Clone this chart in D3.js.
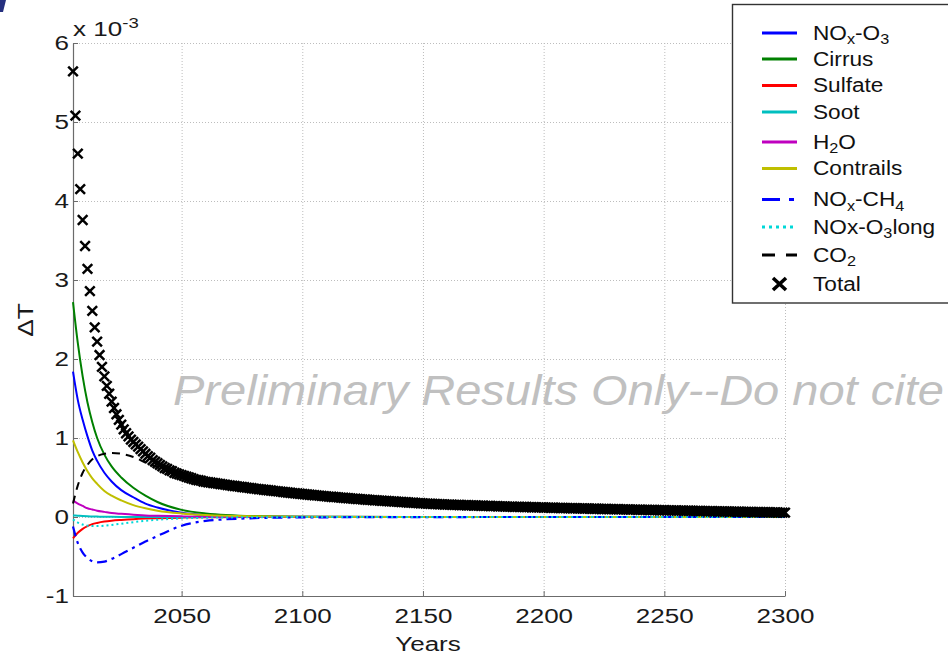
<!DOCTYPE html>
<html>
<head>
<meta charset="utf-8">
<script src="https://cdn.jsdelivr.net/npm/d3@7/dist/d3.min.js"></script>
<style>
body { margin: 0; background: #fff; }
svg { display: block; font-family: "Liberation Sans", Arial, sans-serif; }
</style>
</head>
<body>
<script>
// values are in units of 1e-3 K
var lineYears = [2005, 2007, 2009, 2011, 2013, 2015, 2018, 2021, 2025, 2030, 2035, 2040, 2050, 2060, 2080, 2100, 2150, 2200, 2300];

var noxO3     = [1.84, 1.48, 1.23, 1.02, 0.84, 0.71, 0.56, 0.45, 0.34, 0.25, 0.17, 0.12, 0.055, 0.025, 0.006, 0.002, 0, 0, 0];
var cirrus    = [2.72, 2.20, 1.78, 1.45, 1.20, 1.00, 0.79, 0.64, 0.50, 0.37, 0.27, 0.19, 0.09, 0.045, 0.012, 0.004, 0.001, 0, 0];
var sulfate   = [-0.27, -0.20, -0.15, -0.115, -0.09, -0.075, -0.058, -0.047, -0.037, -0.027, -0.02, -0.015, -0.008, -0.004, -0.001, 0, 0, 0, 0];
var soot      = [0.02, 0.016, 0.012, 0.009, 0.007, 0.005, 0.003, 0.002, 0.001, 0, 0, 0, 0, 0, 0, 0, 0, 0, 0];
var h2o       = [0.21, 0.17, 0.14, 0.11, 0.095, 0.08, 0.065, 0.05, 0.04, 0.03, 0.02, 0.015, 0.008, 0.004, 0.001, 0, 0, 0, 0];
var contrails = [0.97, 0.82, 0.69, 0.58, 0.49, 0.42, 0.33, 0.27, 0.21, 0.15, 0.11, 0.08, 0.045, 0.025, 0.008, 0.003, 0, 0, 0];
var noxCH4    = [-0.12, -0.33, -0.45, -0.52, -0.56, -0.575, -0.565, -0.53, -0.47, -0.39, -0.31, -0.24, -0.11, -0.05, -0.015, -0.005, -0.001, 0, 0];
var noxO3long = [-0.03, -0.07, -0.095, -0.11, -0.115, -0.115, -0.11, -0.10, -0.085, -0.065, -0.048, -0.035, -0.018, -0.009, -0.003, -0.001, 0, 0, 0];
var co2       = [0.17, 0.40, 0.56, 0.66, 0.73, 0.77, 0.80, 0.81, 0.80, 0.76, 0.69, 0.63, 0.50, 0.43, 0.34, 0.28, 0.17, 0.12, 0.055];

var totalYears = d3.range(2005, 2301);
var totalValues = [
  5.64, 5.08, 4.60, 4.15, 3.76, 3.43, 3.14, 2.86, 2.61, 2.40,
  2.22, 2.05, 1.90, 1.78, 1.66, 1.56, 1.46, 1.38, 1.30, 1.23,
  1.17, 1.11, 1.06, 1.02, 0.98, 0.95, 0.92, 0.89, 0.86, 0.83,
  0.80, 0.77, 0.75, 0.72, 0.70, 0.68, 0.66, 0.64, 0.62, 0.61,
  0.59, 0.58, 0.56, 0.55, 0.54, 0.53, 0.52, 0.51, 0.50, 0.49,
  0.48, 0.47, 0.465, 0.46, 0.45, 0.445,
  0.440, 0.436, 0.431, 0.427, 0.422, 0.418, 0.413, 0.409, 0.404, 0.400,
  0.396, 0.392, 0.388, 0.384, 0.380, 0.376, 0.372, 0.368, 0.364, 0.360,
  0.356, 0.352, 0.349, 0.345, 0.342, 0.338, 0.335, 0.331, 0.328, 0.324,
  0.321, 0.317, 0.314, 0.310, 0.307, 0.303, 0.300, 0.297, 0.294, 0.291,
  0.288, 0.285, 0.282, 0.279, 0.276, 0.273, 0.270, 0.267, 0.264, 0.261,
  0.258, 0.256, 0.253, 0.251, 0.248, 0.246, 0.243, 0.241, 0.238, 0.236,
  0.233, 0.231, 0.228, 0.226, 0.223, 0.221, 0.218, 0.216, 0.214, 0.212,
  0.210, 0.208, 0.206, 0.204, 0.202, 0.200, 0.198, 0.196, 0.194, 0.192,
  0.190, 0.188, 0.186, 0.184, 0.182, 0.180, 0.178, 0.176, 0.174, 0.172,
  0.170, 0.169, 0.167, 0.166, 0.164, 0.163, 0.161, 0.160, 0.158, 0.157,
  0.156, 0.155, 0.154, 0.153, 0.152, 0.151, 0.150, 0.149, 0.148, 0.147,
  0.146, 0.145, 0.144, 0.143, 0.142, 0.141, 0.140, 0.139, 0.138, 0.137,
  0.136, 0.135, 0.134, 0.133, 0.132, 0.131, 0.130, 0.129, 0.1285, 0.128,
  0.1275, 0.127, 0.126, 0.125, 0.124, 0.123, 0.1225, 0.122, 0.121, 0.120,
  0.119, 0.118, 0.1175, 0.117, 0.116, 0.115, 0.1145, 0.114, 0.113, 0.112,
  0.1115, 0.111, 0.1105, 0.110, 0.109, 0.108, 0.1075, 0.107, 0.106, 0.105,
  0.1045, 0.104, 0.103, 0.102, 0.1015, 0.101, 0.1005, 0.100, 0.099, 0.098,
  0.0975, 0.097, 0.0965, 0.096, 0.095, 0.094, 0.0935, 0.093, 0.0925, 0.092,
  0.091, 0.090, 0.0895, 0.089, 0.0885, 0.088, 0.087, 0.086, 0.0855, 0.085,
  0.0845, 0.084, 0.0835, 0.083, 0.082, 0.081, 0.0805, 0.080, 0.0795, 0.079,
  0.0785, 0.078, 0.077, 0.076, 0.0755, 0.075, 0.0745, 0.074, 0.0735, 0.073,
  0.072, 0.071, 0.0705, 0.070, 0.0695, 0.069, 0.0685, 0.068, 0.0675, 0.067,
  0.066, 0.065, 0.0645, 0.064, 0.0635, 0.063, 0.0625, 0.062, 0.0615, 0.061,
  0.0605, 0.060, 0.0595, 0.059, 0.0585, 0.058, 0.057, 0.056, 0.0555, 0.055
];

var xTicks = [2050, 2100, 2150, 2200, 2250, 2300];
var yTicks = [-1, 0, 1, 2, 3, 4, 5, 6];
var legendLabels = ["NO_{x}-O_{3}", "Cirrus", "Sulfate", "Soot", "H_{2}O", "Contrails",
                    "NO_{x}-CH_{4}", "NOx-O_{3}long", "CO_{2}", "Total"];

//
var width = 948, height = 657;
var plot = {left: 73, right: 785, top: 43, bottom: 596};

var x = d3.scaleLinear().domain([2005, 2300]).range([plot.left, plot.right]);
var y = d3.scaleLinear().domain([-1, 6]).range([plot.bottom, plot.top]);

var series = [
  {name: legendLabels[0], values: noxO3,     color: "#0000ff", dash: null,       width: 2},
  {name: legendLabels[1], values: cirrus,    color: "#008000", dash: null,       width: 2},
  {name: legendLabels[2], values: sulfate,   color: "#ff0000", dash: null,       width: 2},
  {name: legendLabels[3], values: soot,      color: "#00bfbf", dash: null,       width: 2},
  {name: legendLabels[4], values: h2o,       color: "#bf00bf", dash: null,       width: 2},
  {name: legendLabels[5], values: contrails, color: "#bfbf00", dash: null,       width: 2},
  {name: legendLabels[6], values: noxCH4,    color: "#0000ff", dash: "10,5,3,5", width: 2.2},
  {name: legendLabels[7], values: noxO3long, color: "#00d8d8", dash: "2,3",      width: 2},
  {name: legendLabels[8], values: co2,       color: "#000000", dash: "8,6",      width: 2}
];

var svg = d3.select("body").append("svg")
  .attr("width", width)
  .attr("height", height);

// stretch text horizontally, the original picture is wider than tall
function stretch(sel, sx) {
  sel.each(function() {
    var t = d3.select(this);
    var tx = +t.attr("x") || 0, ty = +t.attr("y") || 0;
    t.attr("transform", "translate(" + tx + "," + ty + ") scale(" + sx + ",1)")
      .attr("x", 0).attr("y", 0);
  });
}

// text with _{sub} and ^{sup} markup
function richText(sel, str, subSize) {
  var parts = str.split(/([_^]\{[^}]*\})/);
  parts.forEach(function(p) {
    if (!p) return;
    if (p[0] === "_" || p[0] === "^") {
      sel.append("tspan")
        .attr("font-size", subSize)
        .attr("baseline-shift", p[0] === "_" ? "-30%" : "55%")
        .text(p.slice(2, -1));
    } else {
      sel.append("tspan").text(p);
    }
  });
}

// slide corner mark
svg.append("polygon")
  .attr("points", "0,0 6,0 3,12 0,12")
  .attr("fill", "#25307f");

// grid
var grid = svg.append("g")
  .attr("stroke", "#bdbdbd")
  .attr("stroke-width", 1)
  .attr("stroke-dasharray", "1,2");
grid.selectAll(".gy").data(yTicks.filter(function(d) { return d > -1; })).enter()
  .append("line")
  .attr("x1", plot.left).attr("x2", plot.right)
  .attr("y1", function(d) { return y(d) + 0.5; })
  .attr("y2", function(d) { return y(d) + 0.5; });
grid.selectAll(".gx").data(xTicks).enter()
  .append("line")
  .attr("y1", plot.top).attr("y2", plot.bottom)
  .attr("x1", function(d) { return x(d) + 0.5; })
  .attr("x2", function(d) { return x(d) + 0.5; });

// watermark
svg.append("text")
  .attr("x", 173).attr("y", 405)
  .attr("font-size", 42)
  .attr("font-style", "italic")
  .attr("fill", "#c0c0c0")
  .text("Preliminary Results Only--Do not cite")
  .call(stretch, 1.12);

// axes
var xAxis = svg.append("g")
  .attr("transform", "translate(0," + plot.bottom + ")")
  .call(d3.axisBottom(x).tickValues(xTicks).tickSize(-5).tickSizeOuter(0).tickPadding(12)
        .tickFormat(function(d) { return String(d); }));
var yAxis = svg.append("g")
  .attr("transform", "translate(" + plot.left + ",0)")
  .call(d3.axisLeft(y).tickValues(yTicks).tickSize(-5).tickSizeOuter(0).tickPadding(4)
        .tickFormat(function(d) { return String(d); }));

[xAxis, yAxis].forEach(function(ax) {
  ax.attr("font-size", 21).attr("font-family", null);
  ax.select(".domain").attr("stroke", "#6b6b6b").attr("stroke-width", 1.2);
  ax.selectAll(".tick line").attr("stroke", "#6b6b6b");
  ax.selectAll(".tick text").attr("fill", "#1a1a1a").call(stretch, 1.24);
});

// multiplier label
var mult = svg.append("text")
  .attr("x", 73).attr("y", 36)
  .attr("font-size", 21)
  .attr("fill", "#1a1a1a");
richText(mult, "x 10^{-3}", 15);
mult.call(stretch, 1.24);

svg.append("text")
  .attr("transform", "translate(33,320) rotate(-90) scale(1.2,1)")
  .attr("text-anchor", "middle")
  .attr("font-size", 22)
  .attr("fill", "#1a1a1a")
  .text("\u0394T");

svg.append("text")
  .attr("x", 428).attr("y", 651)
  .attr("text-anchor", "middle")
  .attr("font-size", 21)
  .attr("fill", "#1a1a1a")
  .text("Years")
  .call(stretch, 1.24);

// lines
var line = d3.line()
  .x(function(d) { return x(d[0]); })
  .y(function(d) { return y(d[1]); })
  .curve(d3.curveMonotoneX);

svg.append("g").selectAll("path").data(series).enter()
  .append("path")
  .attr("d", function(s) { return line(d3.zip(lineYears, s.values)); })
  .attr("fill", "none")
  .attr("stroke", function(s) { return s.color; })
  .attr("stroke-width", function(s) { return s.width; })
  .attr("stroke-dasharray", function(s) { return s.dash; });

// total markers
var cross = "M-4.8,-4.8L4.8,4.8M-4.8,4.8L4.8,-4.8";
svg.append("g").selectAll("path").data(d3.zip(totalYears, totalValues)).enter()
  .append("path")
  .attr("d", cross)
  .attr("transform", function(d) { return "translate(" + x(d[0]) + "," + y(d[1]) + ")"; })
  .attr("fill", "none")
  .attr("stroke", "#000")
  .attr("stroke-width", 2.5);

// legend
var rowY = [33, 59, 85.5, 112, 142, 168.5, 199.5, 227, 255, 284];
var legend = svg.append("g");
legend.append("rect")
  .attr("x", 732.5).attr("y", 4.5)
  .attr("width", 230).attr("height", 298.5)
  .attr("fill", "#fff")
  .attr("stroke", "#333")
  .attr("stroke-width", 1.4);

series.forEach(function(s, i) {
  legend.append("line")
    .attr("x1", 762).attr("x2", 797)
    .attr("y1", rowY[i]).attr("y2", rowY[i])
    .attr("stroke", s.color)
    .attr("stroke-width", 3.2)
    .attr("stroke-dasharray", s.dash ? (i === 6 ? "18,9,5,9" : (i === 8 ? "13,11" : "3,4")) : null);
});
legend.append("path")
  .attr("d", "M-6.5,-6L6.5,6M-6.5,6L6.5,-6")
  .attr("transform", "translate(779.5," + rowY[9] + ")")
  .attr("stroke", "#000")
  .attr("stroke-width", 3.6);

legendLabels.forEach(function(lab, i) {
  var t = legend.append("text")
    .attr("x", 813).attr("y", rowY[i] + 6.5)
    .attr("font-size", 19.5)
    .attr("fill", "#111");
  richText(t, lab, 14);
  t.call(stretch, 1.16);
});
</script>
</body>
</html>
